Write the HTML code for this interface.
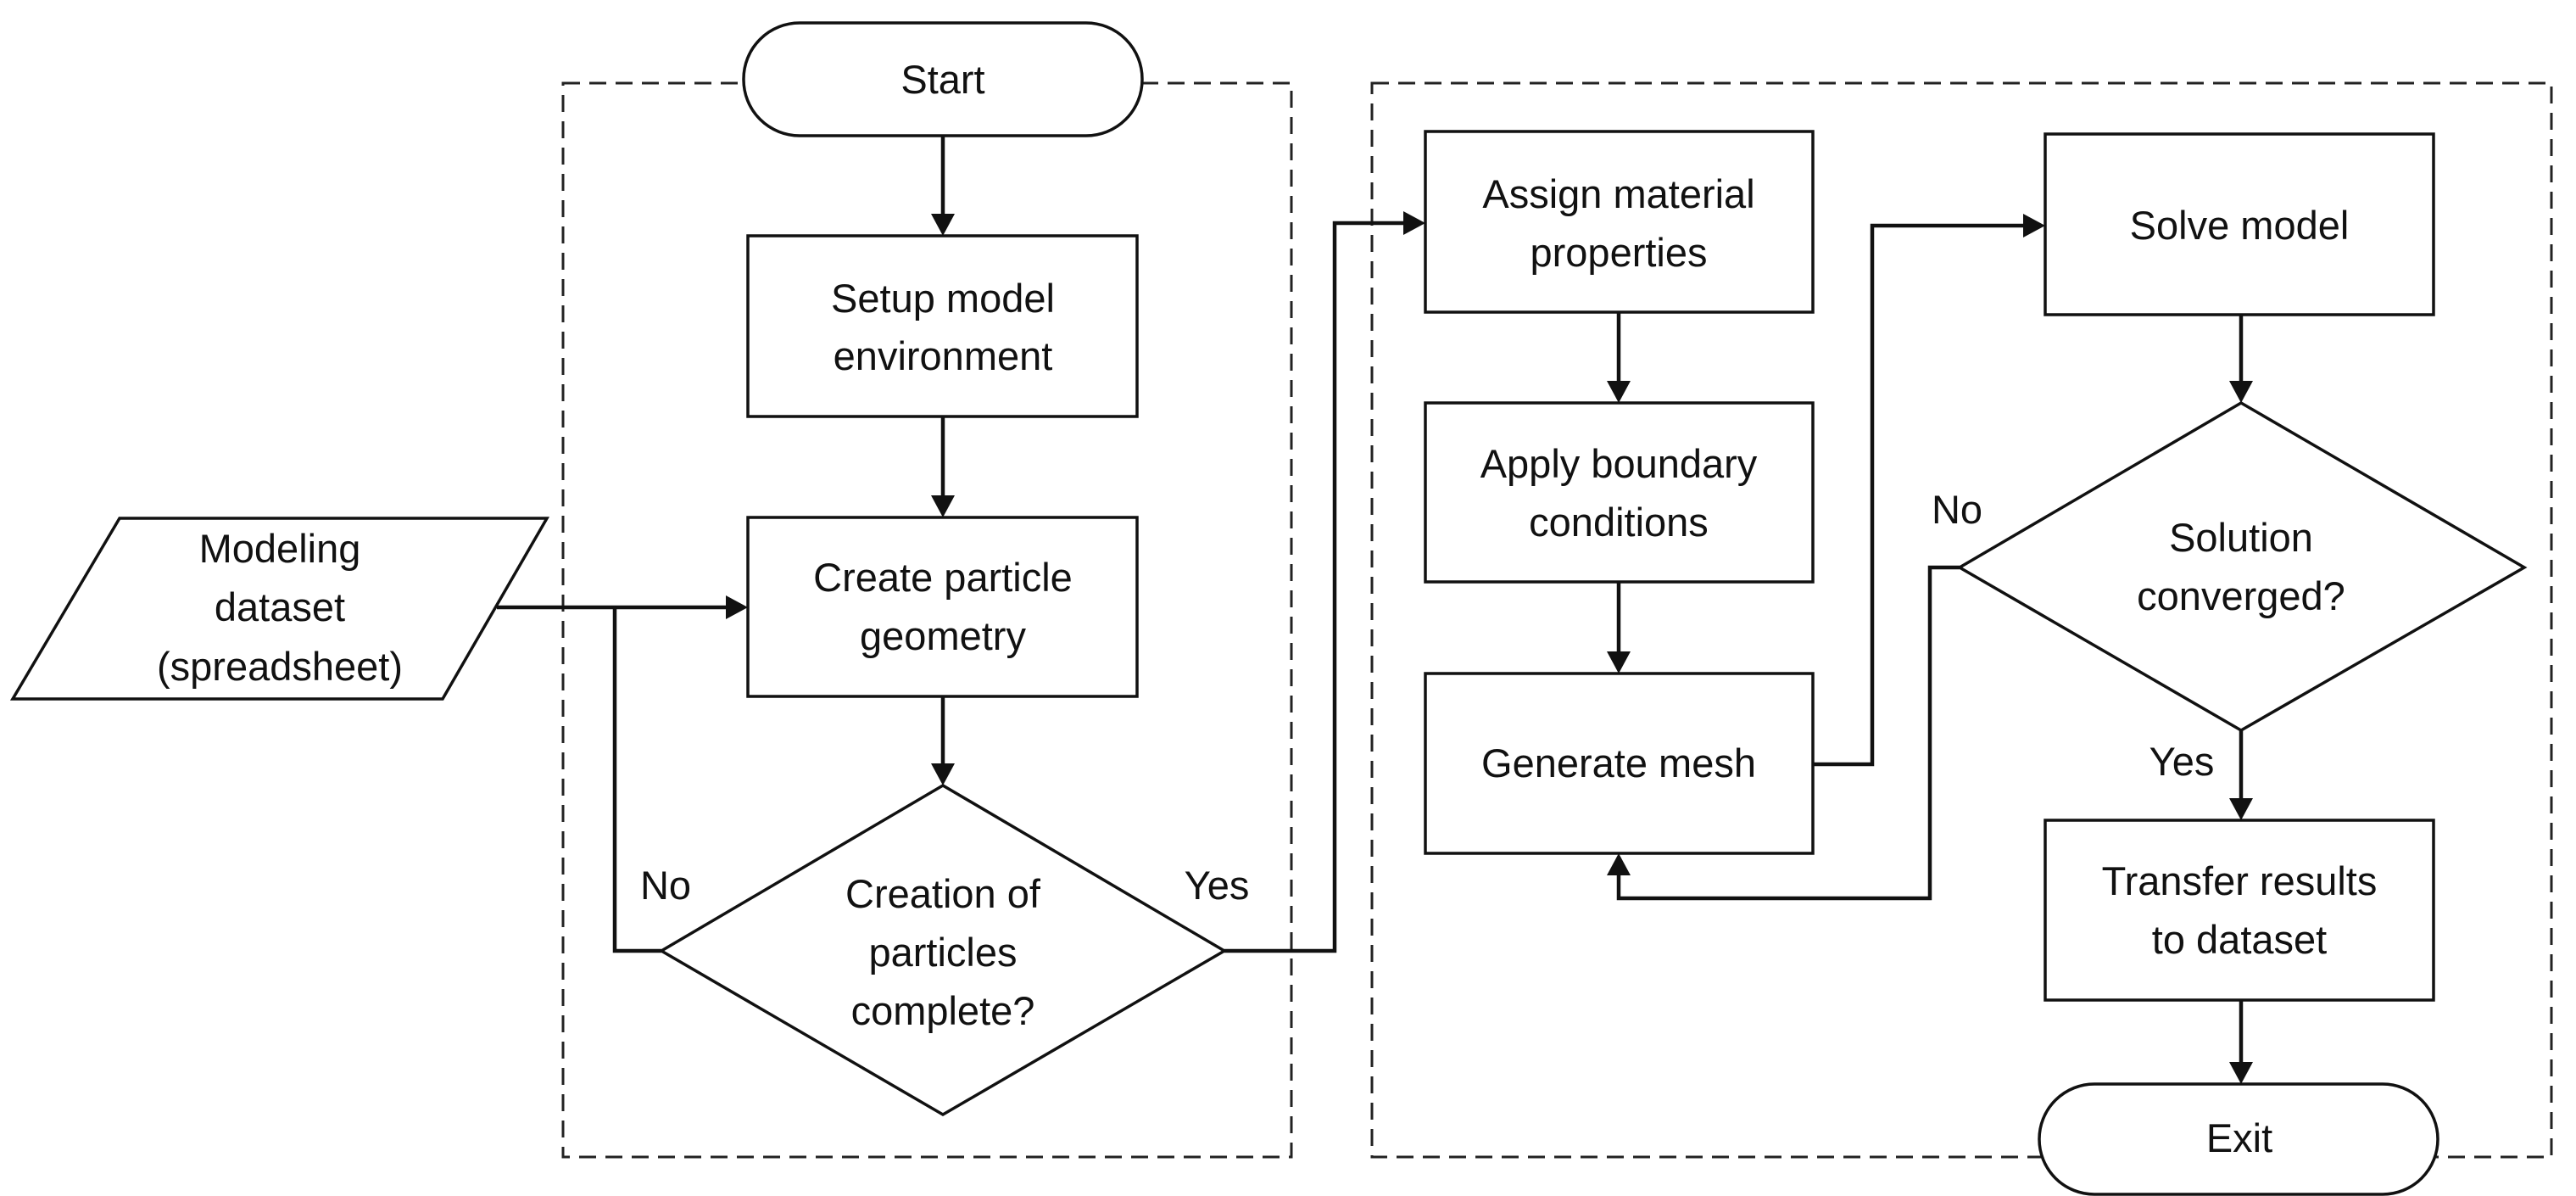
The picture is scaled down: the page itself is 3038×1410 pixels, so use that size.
<!DOCTYPE html>
<html><head><meta charset="utf-8"><style>
html,body{margin:0;padding:0;background:#fff;}
svg{display:block;}
text{font-family:"Liberation Sans",sans-serif;font-size:47px;fill:#111;text-anchor:middle;}
</style></head><body>
<svg width="3038" height="1410" viewBox="0 0 3038 1410" xmlns="http://www.w3.org/2000/svg">
<g fill="none" stroke="#222" stroke-width="3" stroke-dasharray="20 11">
<rect x="664" y="98" width="859" height="1266"/>
<rect x="1618" y="98" width="1391" height="1266"/>
</g>
<g fill="#fff" stroke="#111" stroke-width="3.5">
<rect x="877" y="27" width="470" height="133" rx="66"/>
<rect x="882" y="278" width="459" height="213"/>
<rect x="882" y="610" width="459" height="211"/>
<polygon points="1112,926 1444,1121 1112,1314 780,1121"/>
<polygon points="141,611 645,611 522,824 15,824"/>
<rect x="1681" y="155" width="457" height="213"/>
<rect x="1681" y="475" width="457" height="211"/>
<rect x="1681" y="794" width="457" height="212"/>
<rect x="2412" y="158" width="458" height="213"/>
<polygon points="2643,475 2977,669 2643,861 2311,669"/>
<rect x="2412" y="967" width="458" height="212"/>
<rect x="2405" y="1278" width="470" height="130" rx="65"/>
</g>
<g fill="none" stroke="#111" stroke-width="4.5">
<path d="M1112 160 V252"/>
<path d="M1112 491 V584"/>
<path d="M1112 821 V900"/>
<path d="M586 716 H856"/>
<path d="M780 1121 H725 V716"/>
<path d="M1444 1121 H1574 V263 H1655"/>
<path d="M1909 368 V449"/>
<path d="M1909 686 V768"/>
<path d="M2138 901 H2208 V266 H2386"/>
<path d="M2311 669 H2276 V1059 H1909 V1032"/>
<path d="M2643 371 V449"/>
<path d="M2643 861 V941"/>
<path d="M2643 1179 V1252"/>
</g>
<g fill="#111">
<polygon points="1098,252 1126,252 1112,278"/>
<polygon points="1098,584 1126,584 1112,610"/>
<polygon points="1098,900 1126,900 1112,926"/>
<polygon points="856,702 856,730 882,716"/>
<polygon points="1655,249 1655,277 1681,263"/>
<polygon points="1895,449 1923,449 1909,475"/>
<polygon points="1895,768 1923,768 1909,794"/>
<polygon points="2386,252 2386,280 2412,266"/>
<polygon points="1895,1032 1923,1032 1909,1006"/>
<polygon points="2629,449 2657,449 2643,475"/>
<polygon points="2629,941 2657,941 2643,967"/>
<polygon points="2629,1252 2657,1252 2643,1278"/>
</g>
<text x="1112" y="110">Start</text>
<text x="1112" y="368">Setup model</text>
<text x="1112" y="436">environment</text>
<text x="1112" y="697">Create particle</text>
<text x="1112" y="766">geometry</text>
<text x="1112" y="1070">Creation of</text>
<text x="1112" y="1139">particles</text>
<text x="1112" y="1208">complete?</text>
<text x="330" y="663">Modeling</text>
<text x="330" y="732">dataset</text>
<text x="330" y="802">(spreadsheet)</text>
<text x="785" y="1060">No</text>
<text x="1435" y="1060">Yes</text>
<text x="1909" y="245">Assign material</text>
<text x="1909" y="314">properties</text>
<text x="1909" y="563">Apply boundary</text>
<text x="1909" y="632">conditions</text>
<text x="1909" y="916">Generate mesh</text>
<text x="2641" y="282">Solve model</text>
<text x="2643" y="650">Solution</text>
<text x="2643" y="719">converged?</text>
<text x="2308" y="617">No</text>
<text x="2573" y="914">Yes</text>
<text x="2641" y="1055">Transfer results</text>
<text x="2641" y="1124">to dataset</text>
<text x="2641" y="1358">Exit</text>
</svg>
</body></html>
